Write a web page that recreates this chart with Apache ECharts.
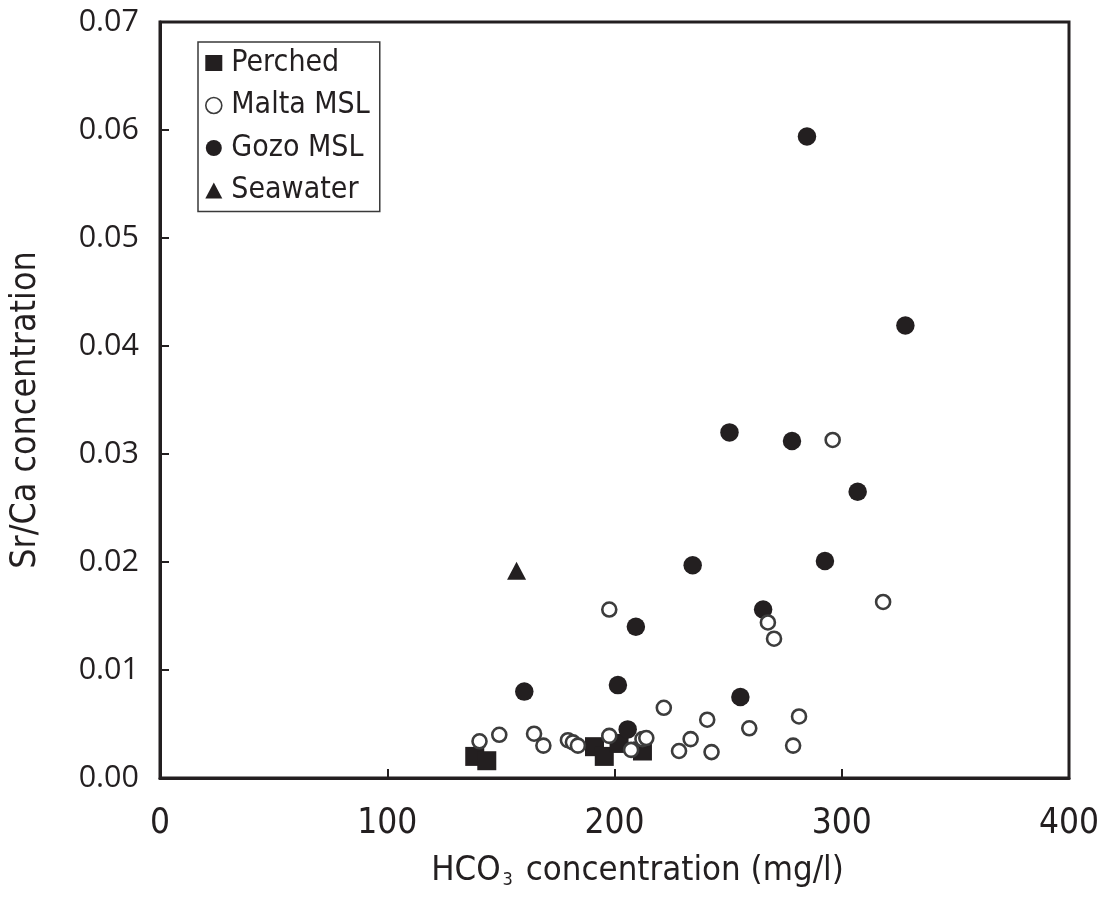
<!DOCTYPE html>
<html>
<head>
<meta charset="utf-8">
<script src="https://cdn.jsdelivr.net/npm/echarts@6/dist/echarts.min.js"></script>
<style>
  html, body { margin: 0; padding: 0; background: #ffffff; }
  #chart { width: 1109px; height: 899px; }
</style>
</head>
<body>
<div id="chart"></div>
<script>
// HCO3 (mg/l) vs Sr/Ca ratio for each groundwater group
const perched = [
  [138.5, 0.0020], [143.8, 0.0016], [191.2, 0.0029],
  [195.5, 0.0020], [202.0, 0.0032], [212.3, 0.0025]
];
const maltaMSL = [
  [140.6, 0.0034], [149.3, 0.0040], [164.6, 0.0041], [168.7, 0.0030],
  [179.5, 0.0035], [181.7, 0.0033], [183.9, 0.0030], [197.7, 0.0039],
  [207.3, 0.0026], [212.3, 0.0036], [214.0, 0.0037], [221.7, 0.0065],
  [228.4, 0.0025], [233.5, 0.0036], [240.8, 0.0054], [242.7, 0.0024],
  [259.3, 0.0046], [281.2, 0.0057], [278.6, 0.0030], [267.5, 0.0144],
  [270.2, 0.0129], [318.2, 0.0163], [197.7, 0.0156], [296.0, 0.0313]
];
const gozoMSL = [
  [284.7, 0.0594], [328.0, 0.0419], [250.6, 0.0320], [278.1, 0.0312],
  [307.0, 0.0265], [292.6, 0.0201], [234.4, 0.0197], [265.4, 0.0156],
  [209.4, 0.0140], [160.3, 0.0080], [201.5, 0.0086], [255.4, 0.0075],
  [205.8, 0.0045]
];
const seawater = [
  [156.9, 0.0192]
];
const seriesNames = ['Perched', 'Malta MSL', 'Gozo MSL', 'Seawater'];
const xTicks = [0, 100, 200, 300, 400];
const yTicks = [0.00, 0.01, 0.02, 0.03, 0.04, 0.05, 0.06, 0.07];

const INK = '#231f20';
const RING = '#3c3c3c';
const labelFont = "'Open Sans', 'DejaVu Sans', sans-serif";
const narrowFont = "'Liberation Sans Narrow', 'DejaVu Sans Condensed', 'Open Sans', sans-serif";

const chart = echarts.init(document.getElementById('chart'), null, { renderer: 'canvas' });

chart.setOption({
  backgroundColor: '#ffffff',
  animation: false,
  grid: {
    left: 157, right: 40, top: 22, bottom: 121,
    show: true, borderColor: INK, borderWidth: 3, backgroundColor: 'transparent'
  },
  legend: {
    orient: 'vertical',
    left: 198, top: 42,
    padding: [6, 10, 6, 7],
    itemGap: 12.5,
    itemWidth: 17,
    itemHeight: 16,
    borderColor: '#3a3a3a',
    borderWidth: 1.5,
    backgroundColor: '#ffffff',
    textStyle: {
      fontFamily: narrowFont, fontSize: 30, color: INK,
      lineHeight: 30, padding: [0, 0, 0, 4]
    },
    data: [
      { name: seriesNames[0] },
      { name: seriesNames[1], itemStyle: { borderWidth: 1.6 } },
      { name: seriesNames[2] },
      { name: seriesNames[3] }
    ]
  },
  xAxis: {
    type: 'value',
    min: xTicks[0], max: xTicks[xTicks.length - 1], interval: 100,
    name: '{a|HCO}{s|3}{a| concentration (mg/l)}',
    nameLocation: 'middle',
    nameGap: 75,
    nameTextStyle: {
      padding: [0, 0, 0, 46],
      rich: {
        a: { fontFamily: narrowFont, fontSize: 34.5, color: INK, lineHeight: 36 },
        s: { fontFamily: narrowFont, fontSize: 18, color: INK, lineHeight: 36,
             verticalAlign: 'bottom', padding: [0, 3, 0, 2] }
      }
    },
    axisLine: { show: true, lineStyle: { color: INK, width: 3 } },
    axisTick: { show: true, inside: true, length: 9, lineStyle: { color: INK, width: 2 } },
    axisLabel: {
      fontFamily: narrowFont, fontSize: 35, color: INK, margin: 28,
      customValues: xTicks
    },
    splitLine: { show: false }
  },
  yAxis: {
    type: 'value',
    min: yTicks[0], max: yTicks[yTicks.length - 1], interval: 0.01,
    name: 'Sr/Ca concentration',
    nameLocation: 'middle',
    nameGap: 116,
    nameRotate: 90,
    nameTextStyle: { fontFamily: narrowFont, fontSize: 35.5, color: INK, padding: [0, 20, 0, 0] },
    axisLine: { show: true, lineStyle: { color: INK, width: 3 } },
    axisTick: { show: true, inside: true, length: 9, lineStyle: { color: INK, width: 2 } },
    axisLabel: {
      fontFamily: labelFont, fontSize: 30.5, color: INK, margin: 21,
      formatter: v => v.toFixed(2)
    },
    splitLine: { show: false }
  },
  series: [
    {
      name: seriesNames[0], type: 'scatter', z: 2,
      symbol: 'rect', symbolSize: 19,
      itemStyle: { color: INK, opacity: 1 },
      data: perched
    },
    {
      name: seriesNames[1], type: 'scatter', z: 4,
      symbol: 'circle', symbolSize: 14,
      itemStyle: { color: '#ffffff', borderColor: RING, borderWidth: 2.6, opacity: 1 },
      data: maltaMSL
    },
    {
      name: seriesNames[2], type: 'scatter', z: 3,
      symbol: 'circle', symbolSize: 18.5,
      itemStyle: { color: INK, opacity: 1 },
      data: gozoMSL
    },
    {
      name: seriesNames[3], type: 'scatter', z: 5,
      symbol: 'triangle', symbolSize: [19, 18],
      itemStyle: { color: INK, opacity: 1 },
      data: seawater
    }
  ]
});
</script>
</body>
</html>
